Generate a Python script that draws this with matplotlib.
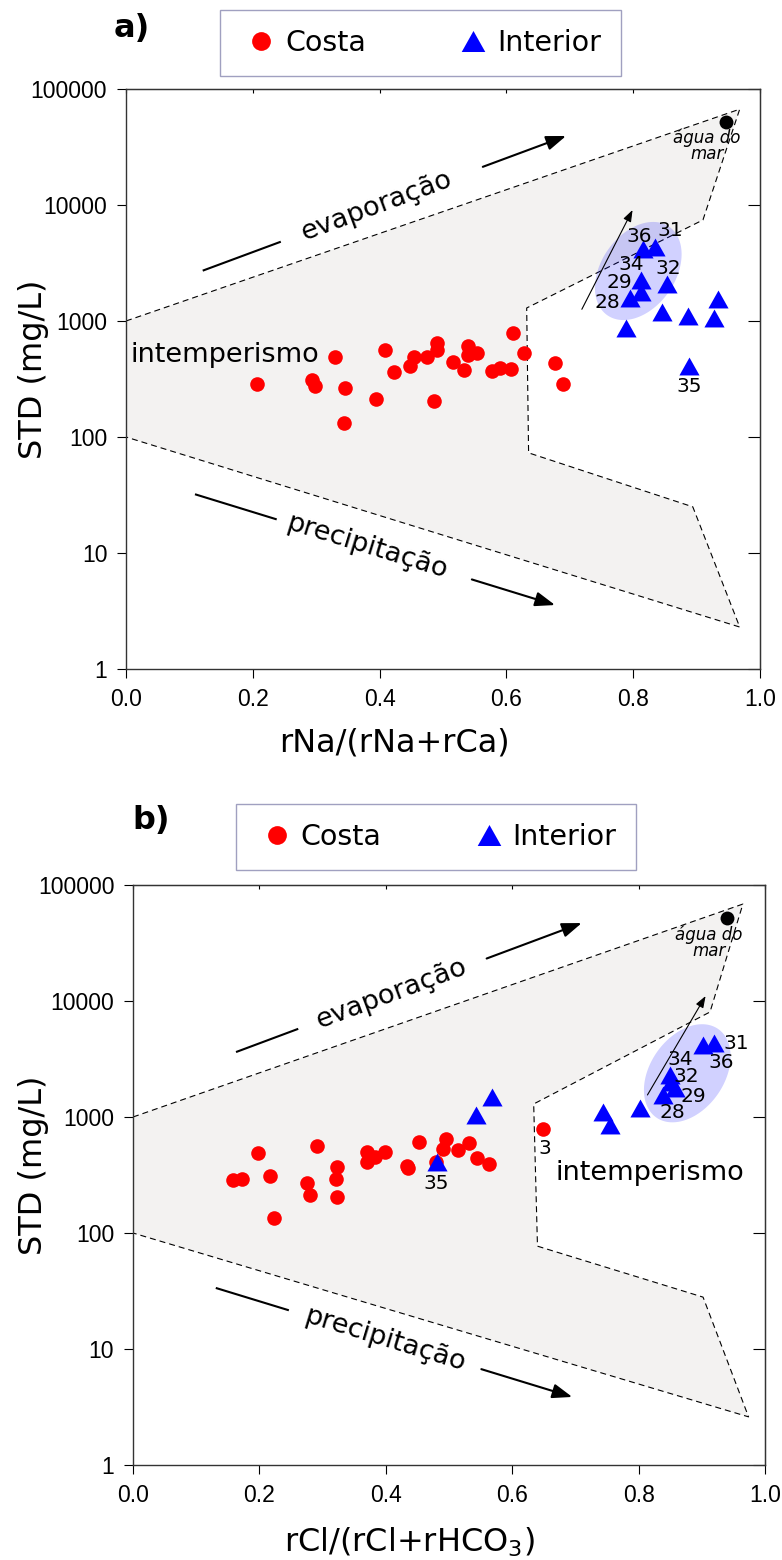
import numpy as np
import matplotlib
matplotlib.use('Agg')
import matplotlib.pyplot as plt
from matplotlib.lines import Line2D
from matplotlib.patches import Polygon, ArrowStyle
from matplotlib.ticker import NullLocator

plt.rcParams['font.family'] = ['DejaVu Sans']
plt.rcParams['mathtext.fontset'] = 'dejavusans'

# ---------------- data ----------------
# panel a : rNa/(rNa+rCa)
costa_a_x = [0.206, 0.294, 0.298, 0.330, 0.345, 0.344, 0.395, 0.409, 0.422, 0.448,
             0.455, 0.475, 0.490, 0.490, 0.486, 0.515, 0.533, 0.540, 0.540, 0.553,
             0.578, 0.590, 0.607, 0.611, 0.627, 0.677, 0.690]
costa_a_y = [287, 310, 277, 486, 266, 133, 211, 562, 366, 409,
             493, 493, 640, 565, 203, 446, 378, 608, 509, 526,
             371, 396, 385, 783, 533, 438, 287]
interior_a_x = [0.816, 0.835, 0.813, 0.812, 0.795, 0.854, 0.788, 0.846, 0.887, 0.933, 0.927, 0.888]
interior_a_y = [4150, 4370, 2250, 1790, 1570, 2080, 865, 1203, 1104, 1537, 1054, 409]
labels_a = ['36', '31', '34', '32', '29', '28', '35']
labels_a_x = [0.809, 0.858, 0.797, 0.855, 0.778, 0.759, 0.888]
labels_a_y = [5400, 5970, 3100, 2810, 2130, 1430, 275]
mar_a = (0.946, 52200)
env_a_x = [0.0, 0.968, 0.910, 0.632, 0.635, 0.894, 0.968, 0.0]
env_a_y = [1000, 67000, 7430, 1295, 73, 25, 2.3, 100]

# panel b : rCl/(rCl+rHCO3)
costa_b_x = [0.159, 0.173, 0.198, 0.217, 0.223, 0.276, 0.280, 0.291, 0.323, 0.321,
             0.323, 0.370, 0.370, 0.383, 0.399, 0.433, 0.435, 0.453, 0.480, 0.495,
             0.490, 0.515, 0.532, 0.545, 0.564, 0.648]
costa_b_y = [286, 290, 486, 312, 134, 268, 213, 566, 373, 290,
             206, 502, 412, 455, 495, 378, 365, 612, 412, 641,
             530, 520, 593, 441, 391, 783]
interior_b_x = [0.902, 0.919, 0.849, 0.852, 0.857, 0.838, 0.803, 0.743, 0.754, 0.5675, 0.542, 0.4805]
interior_b_y = [4180, 4320, 2300, 2000, 1780, 1560, 1188, 1110, 853, 1495, 1040, 406]
labels_b = ['31', '36', '34', '32', '29', '28', '35', '3']
labels_b_x = [0.954, 0.930, 0.866, 0.875, 0.887, 0.854, 0.480, 0.652]
labels_b_y = [4340, 2940, 3150, 2250, 1495, 1089, 268, 540]
mar_b = (0.940, 51600)
env_b_x = [0.0, 0.965, 0.913, 0.634, 0.640, 0.902, 0.974, 0.0]
env_b_y = [1000, 68500, 8040, 1295, 77, 28, 2.6, 100]

xtick_vals = [0.0, 0.2, 0.4, 0.6, 0.8, 1.0]
xtick_labels = ['0.0', '0.2', '0.4', '0.6', '0.8', '1.0']
ytick_vals = [1, 10, 100, 1000, 10000, 100000]
ytick_labels = ['1', '10', '100', '1000', '10000', '100000']

# ---------------- figure ----------------
W, H = 782, 1560
fig = plt.figure(figsize=(W / 100, H / 100), dpi=100)
ax_a = fig.add_axes([126 / W, 1 - 669 / H, 634 / W, 580 / H])
ax_b = fig.add_axes([133 / W, 1 - 1465 / H, 632 / W, 580 / H])

RED = '#ff0000'
BLUE = '#0000ff'
tri = [(-1, -0.89), (1, -0.89), (0, 0.89)]
TXT = 19.5


def setup(ax):
    ax.set_xlim(0, 1)
    ax.set_yscale('log')
    ax.set_ylim(1, 1e5)
    ax.set_xticks(xtick_vals)
    ax.set_xticklabels(xtick_labels, fontfamily='Liberation Sans', fontsize=16.5)
    ax.set_yticks(ytick_vals)
    ax.set_yticklabels(ytick_labels, fontfamily='Liberation Sans', fontsize=16.5)
    ax.yaxis.set_minor_locator(NullLocator())
    ax.tick_params(axis='x', direction='out', length=6.5, width=0.8, pad=7)
    ax.tick_params(axis='y', direction='out', length=6.5, width=0.8, pad=7)
    for s in ax.spines.values():
        s.set_linewidth(1.0)
        s.set_color('#333333')
    secx = ax.secondary_xaxis('top')
    secx.set_xticks(xtick_vals)
    secx.tick_params(direction='in', length=3, width=0.8, labeltop=False)
    secx.spines['top'].set_color('#333333')
    secy = ax.secondary_yaxis('right')
    secy.set_yticks(ytick_vals)
    secy.yaxis.set_minor_locator(NullLocator())
    secy.tick_params(direction='in', length=9, width=0.8, labelright=False)
    secy.spines['right'].set_color('#333333')


def envelope(ax, ex, ey):
    pts = np.column_stack([ex, ey])
    ax.add_patch(Polygon(pts, closed=True, fc='#f3f2f1', ec='none', zorder=0))
    ax.plot(ex, ey, color='black', lw=0.8, ls=(0, (5.4, 3.6)), zorder=1)


def ellipse(ax, cx, cy, a_px, b_px, ang):
    t = np.linspace(0, 2 * np.pi, 200)
    th = np.deg2rad(ang)
    dx = a_px * np.cos(t) * np.cos(th) - b_px * np.sin(t) * np.sin(th)
    dy = a_px * np.cos(t) * np.sin(th) + b_px * np.sin(t) * np.cos(th)
    c = ax.transData.transform((cx, cy))
    pts = ax.transData.inverted().transform(np.column_stack([c[0] + dx, c[1] + dy]))
    ax.add_patch(Polygon(pts, closed=True, fc=(0, 0, 1, 0.18), ec='none', zorder=2))


def interp(p0, p1, t):
    x = p0[0] + (p1[0] - p0[0]) * t
    ly = np.log10(p0[1]) + (np.log10(p1[1]) - np.log10(p0[1])) * t
    return (x, 10 ** ly)


def broken_arrow(ax, p0, p1, t1, t2, tc, label):
    q1 = interp(p0, p1, t1)
    q2 = interp(p0, p1, t2)
    qc = interp(p0, p1, tc)
    ax.plot([p0[0], q1[0]], [p0[1], q1[1]], color='black', lw=1.5, solid_capstyle='butt', zorder=3)
    ax.annotate('', xy=p1, xytext=q2,
                arrowprops=dict(arrowstyle=ArrowStyle('-|>', head_length=0.6, head_width=0.22),
                                lw=1.5, color='black', mutation_scale=20,
                                shrinkA=0, shrinkB=0), zorder=3)
    d0 = ax.transData.transform(p0)
    d1 = ax.transData.transform(p1)
    ang = np.degrees(np.arctan2(d1[1] - d0[1], d1[0] - d0[0]))
    ax.text(qc[0], qc[1], label, rotation=ang, rotation_mode='anchor',
            ha='center', va='center', fontsize=TXT, zorder=4)


def thin_arrow(ax, p0, p1):
    ax.annotate('', xy=p1, xytext=p0,
                arrowprops=dict(arrowstyle=ArrowStyle('-|>', head_length=0.5, head_width=0.18),
                                lw=0.8, color='black', mutation_scale=14,
                                shrinkA=0, shrinkB=0), zorder=3)


def panel(ax, cx, cy, ix, iy, lab, lx, ly, mar, ex, ey, ell_c, tarrow, evap, prec,
          intemp, mar_txt):
    envelope(ax, ex, ey)
    ellipse(ax, ell_c[0], ell_c[1], 54, 37, 55)
    thin_arrow(ax, tarrow[0], tarrow[1])
    ax.plot(cx, cy, ls='none', marker='o', ms=10.5, color=RED, mec=RED, mew=0, zorder=5)
    ax.plot(ix, iy, ls='none', marker=tri, ms=14.5, color=BLUE, mec=BLUE, mew=0, zorder=5)
    ax.plot([mar[0]], [mar[1]], ls='none', marker='o', ms=10, color='black', mew=0, zorder=5)
    for s, x, y in zip(lab, lx, ly):
        ax.text(x, y, s, ha='center', va='center', fontsize=14.5, zorder=6)
    broken_arrow(ax, *evap, 'evaporação')
    broken_arrow(ax, *prec, 'precipitação')
    ax.text(intemp[0], intemp[1], 'intemperismo', ha='left', va='baseline', fontsize=TXT, zorder=4)
    ax.text(mar_txt[0], mar_txt[1], 'água do\nmar', ha='center', va='center',
            multialignment='center', linespacing=0.85,
            fontsize=12, style='italic', zorder=6)


setup(ax_a)
setup(ax_b)

panel(ax_a, costa_a_x, costa_a_y, interior_a_x, interior_a_y, labels_a, labels_a_x, labels_a_y,
      mar_a, env_a_x, env_a_y, (0.808, 2698), ((0.719, 1262), (0.799, 9060)),
      ((0.121, 2716), (0.694, 39350), 0.215, 0.771, 0.479),
      ((0.1088, 32.1), (0.6767, 3.56), 0.227, 0.769, 0.477),
      (0.0074, 440), (0.916, 32300))
panel(ax_b, costa_b_x, costa_b_y, interior_b_x, interior_b_y, labels_b, labels_b_x, labels_b_y,
      mar_b, env_b_x, env_b_y, (0.877, 2382), ((0.814, 1549), (0.906, 11040)),
      ((0.163, 3630), (0.710, 47000), 0.18, 0.725, 0.45),
      ((0.131, 33.6), (0.695, 3.86), 0.205, 0.745, 0.475),
      (0.669, 286), (0.911, 31600))

ax_a.set_xlabel('rNa/(rNa+rCa)', fontsize=23, va='baseline')
ax_a.xaxis.set_label_coords(0.424, -0.1426)
ax_b.set_xlabel(r'rCl/(rCl+rHCO$_3$)', fontsize=23, va='baseline')
ax_b.xaxis.set_label_coords(0.438, -0.1495)
for ax, xc in ((ax_a, -0.1454), (ax_b, -0.157)):
    ax.set_ylabel('STD (mg/L)', fontsize=23)
    ax.yaxis.label.set_verticalalignment('center')
    ax.yaxis.set_label_coords(xc, 0.517)

fig.text(132 / W, 1 - 28 / H, 'a)', fontsize=23, fontweight='bold', ha='center', va='center')
fig.text(151.5 / W, 1 - 820 / H, 'b)', fontsize=23, fontweight='bold', ha='center', va='center')

handles = [Line2D([], [], ls='none', marker='o', ms=13.5, color=RED, mew=0, label='Costa'),
           Line2D([], [], ls='none', marker=tri, ms=17, color=BLUE, mew=0, label='Interior')]
for cxy in ((420.5 / W, 1 - 43 / H), (436 / W, 1 - 837 / H)):
    fig.legend(handles=handles, loc='center', bbox_to_anchor=cxy, ncol=2, fontsize=20.5,
               frameon=True, fancybox=False, edgecolor='#a0a0c0', framealpha=1,
               borderpad=0.68, handlelength=1.5, handletextpad=0.1, columnspacing=3.0)

fig.savefig('out.png', dpi=100)
